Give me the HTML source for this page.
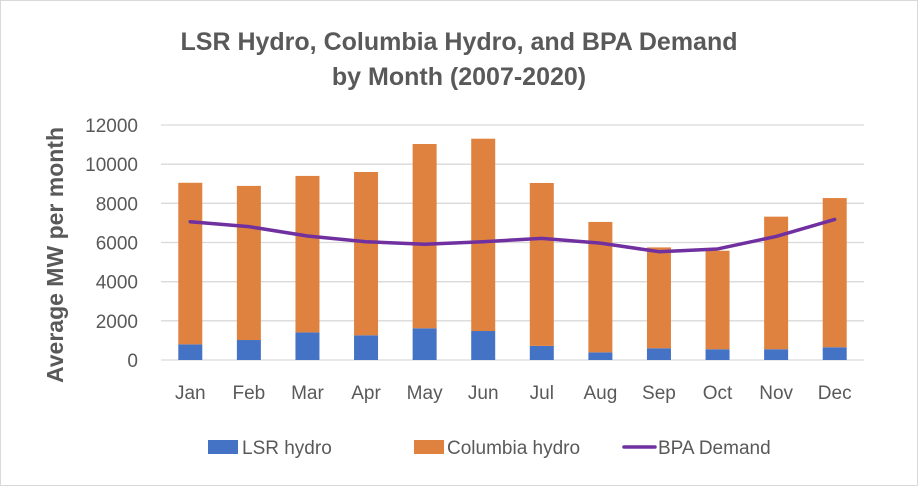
<!DOCTYPE html>
<html><head><meta charset="utf-8"><style>
body{margin:0;background:#fff;}
svg{display:block;font-family:"Liberation Sans",sans-serif;}
</style></head><body>
<svg id="chart" width="918" height="486">
<rect x="0.5" y="0.5" width="917" height="485" fill="#fff" stroke="#d9d9d9"/>
<text x="459" y="50" text-anchor="middle" font-size="25" font-weight="bold" fill="#595959">LSR Hydro, Columbia Hydro, and BPA Demand</text>
<text x="459" y="85" text-anchor="middle" font-size="25" font-weight="bold" fill="#595959">by Month (2007-2020)</text>
<text transform="translate(63,255) rotate(-90)" text-anchor="middle" font-size="23" font-weight="bold" fill="#595959">Average MW per month</text>
<g id="grid"></g><g id="bars"></g><g id="line"></g><g id="labels"></g>
<g>
<rect x="208" y="440" width="30" height="14" fill="#4472c4"/>
<text x="242" y="454" font-size="19" fill="#595959">LSR hydro</text>
<rect x="414" y="440" width="30" height="14" fill="#e0823f"/>
<text x="447" y="454" font-size="19" fill="#595959">Columbia hydro</text>
<line x1="624" y1="447" x2="655" y2="447" stroke="#7030a0" stroke-width="3.5" stroke-linecap="round"/>
<text x="658" y="454" font-size="19" fill="#595959">BPA Demand</text>
</g>
</svg>
<script>
const months=["Jan","Feb","Mar","Apr","May","Jun","Jul","Aug","Sep","Oct","Nov","Dec"];
const lsr=[800,1020,1410,1260,1620,1480,720,390,600,550,550,650];
const columbia=[8250,7870,7990,8340,9410,9820,8320,6660,5150,5030,6770,7620];
const demand=[7060,6810,6330,6040,5910,6040,6210,5970,5530,5670,6310,7180];
const yTicks=[0,2000,4000,6000,8000,10000,12000];
const NS="http://www.w3.org/2000/svg";
const y0=360,y1=125,x0=161,x1=864;
const y=v=>y0-(v/12000)*(y0-y1);
const step=(x1-x0)/months.length;
const x=i=>x0+step*(i+0.5);
function mk(t,a,p){const e=document.createElementNS(NS,t);for(const k in a)e.setAttribute(k,a[k]);document.getElementById(p).appendChild(e);return e;}
yTicks.forEach((t,i)=>{
 const g=mk("line",{x1:x0,x2:x1,y1:y(t),y2:y(t),stroke:"#d9d9d9","stroke-width":1.3},"grid");
 
 
 const l=mk("text",{x:138,y:y(t)+7,"text-anchor":"end","font-size":19,fill:"#595959"},"labels");
 l.textContent=t;
 
 
});
const bw=24;
months.forEach((m,i)=>{
 const b=mk("rect",{x:x(i)-bw/2,y:y(lsr[i]),width:bw,height:y(0)-y(lsr[i]),fill:"#4472c4"},"bars");
 
 
 const c=mk("rect",{x:x(i)-bw/2,y:y(lsr[i]+columbia[i]),width:bw,height:y(lsr[i])-y(lsr[i]+columbia[i]),fill:"#e0823f"},"bars");
 
 
 const t=mk("text",{x:x(i),y:399,"text-anchor":"middle","font-size":19,fill:"#595959"},"labels");
 t.textContent=m;
 
 
});
const pl=mk("polyline",{points:demand.map((v,i)=>x(i)+","+y(v)).join(" "),fill:"none",stroke:"#7030a0","stroke-width":3.5,"stroke-linejoin":"round","stroke-linecap":"round"},"line");


</script>
</body></html>
